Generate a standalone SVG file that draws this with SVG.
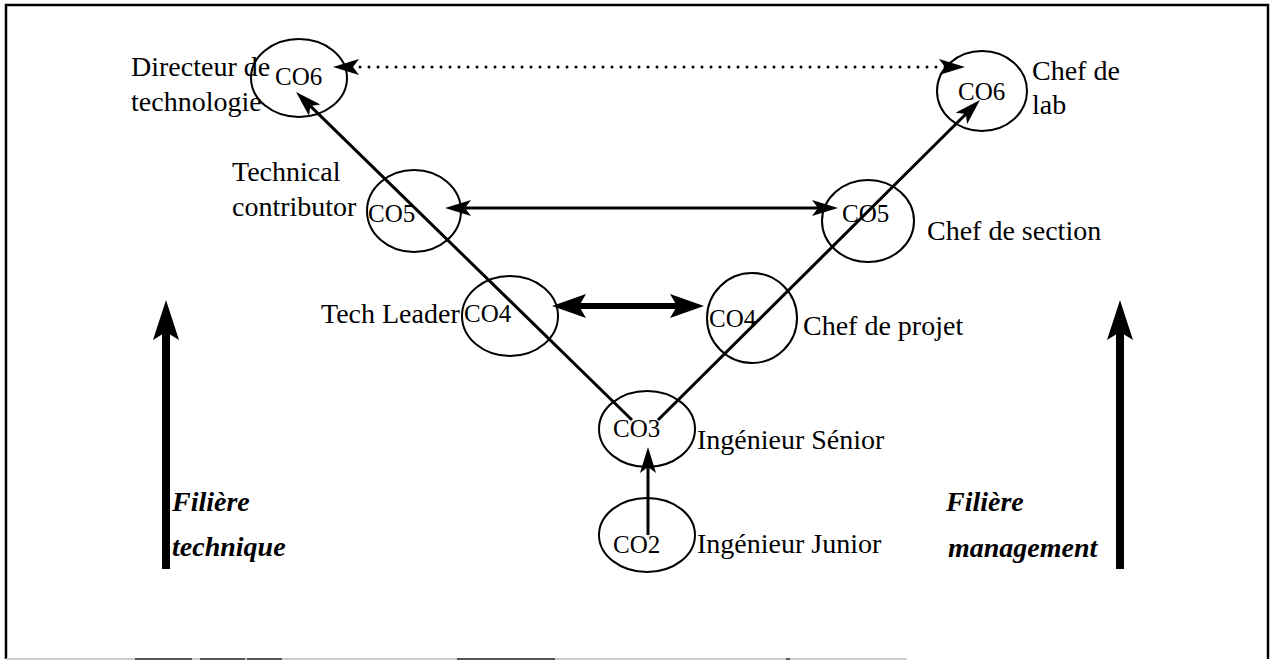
<svg xmlns="http://www.w3.org/2000/svg" width="1274" height="661" viewBox="0 0 1274 661">
<style>
.node ellipse{fill:none;stroke:#000;stroke-width:2}
.lbl{font-family:"Liberation Serif","Times New Roman",serif;font-size:28px;fill:#000}
.co{font-family:"Liberation Serif","Times New Roman",serif;font-size:25px;fill:#000}
.fil{font-family:"Liberation Serif","Times New Roman",serif;font-size:28px;font-weight:bold;font-style:italic;fill:#000}
.c{stroke:#000;fill:none}
</style>
<defs>
<marker id="aS" viewBox="0 0 26 16" refX="8" refY="8" markerWidth="26" markerHeight="16" markerUnits="userSpaceOnUse" orient="auto-start-reverse"><path d="M0,0 L26,8 L0,16 L6,8 z" fill="#000"/></marker>
<marker id="aM" viewBox="0 0 34 24" refX="9" refY="12" markerWidth="34" markerHeight="24" markerUnits="userSpaceOnUse" orient="auto-start-reverse"><path d="M0,0 L34,12 L0,24 L7,12 z" fill="#000"/></marker>
<marker id="aL" viewBox="0 0 40 26" refX="10" refY="13" markerWidth="40" markerHeight="26" markerUnits="userSpaceOnUse" orient="auto"><path d="M0,0 L40,13 L0,26 L8,13 z" fill="#000"/></marker>
</defs>
<rect width="1274" height="661" fill="#fff"/>
<g id="frame">
<path d="M6,659 L6,5 L1268,5 L1268,659" fill="none" stroke="#000" stroke-width="2.5"/>
<line x1="6" y1="659" x2="907" y2="659" stroke="#ccc" stroke-width="2"/>
<path d="M135,659 H192 M200,659 H245 M247,659 H282 M457,659 H555 M786,659 H790" stroke="#555" stroke-width="2"/>
</g>
<g id="nodes">
<g id="co6-tech" class="node"><ellipse cx="299" cy="78" rx="48" ry="39"/></g>
<g id="co6-mgmt" class="node"><ellipse cx="982" cy="91" rx="45" ry="40"/></g>
<g id="co5-tech" class="node"><ellipse cx="414" cy="211" rx="47" ry="41"/></g>
<g id="co5-mgmt" class="node"><ellipse cx="868" cy="221" rx="46" ry="41"/></g>
<g id="co4-tech" class="node"><ellipse cx="510" cy="316" rx="48" ry="40"/></g>
<g id="co4-mgmt" class="node"><ellipse cx="752" cy="318" rx="45" ry="45"/></g>
<g id="co3" class="node"><ellipse cx="647" cy="429" rx="48" ry="38"/></g>
<g id="co2" class="node"><ellipse cx="647" cy="535" rx="48" ry="37"/></g>
</g>
<g id="connectors">
<line class="c" x1="351" y1="67" x2="947" y2="67" stroke-width="3" stroke-linecap="round" stroke-dasharray="0 9" marker-start="url(#aS)" marker-end="url(#aS)"/>
<line class="c" x1="632" y1="420" x2="308.9" y2="104.6" stroke-width="3" marker-end="url(#aS)"/>
<line class="c" x1="658" y1="420" x2="967.2" y2="112.7" stroke-width="3" marker-end="url(#aS)"/>
<line class="c" x1="463" y1="208" x2="820" y2="208" stroke-width="3" marker-start="url(#aS)" marker-end="url(#aS)"/>
<line class="c" x1="577" y1="306" x2="679" y2="306" stroke-width="6" marker-start="url(#aM)" marker-end="url(#aM)"/>
<line class="c" x1="648" y1="535" x2="648" y2="465" stroke-width="3" marker-end="url(#aS)"/>
<line class="c" x1="166" y1="569" x2="166" y2="330" stroke-width="8" marker-end="url(#aL)"/>
<line class="c" x1="1120" y1="569" x2="1120" y2="330" stroke-width="8" marker-end="url(#aL)"/>
</g>
<g id="labels">
<text class="lbl" x="131" y="76">Directeur de</text>
<text class="lbl" x="131" y="111">technologie</text>
<text class="co" x="275" y="85">CO6</text>
<text class="lbl" x="1032" y="80">Chef de</text>
<text class="lbl" x="1032" y="114">lab</text>
<text class="co" x="958" y="100">CO6</text>
<text class="lbl" x="232" y="181">Technical</text>
<text class="lbl" x="232" y="216">contributor</text>
<text class="co" x="368" y="222">CO5</text>
<text class="co" x="842" y="222">CO5</text>
<text class="lbl" x="927" y="240">Chef de section</text>
<text class="lbl" x="321" y="323">Tech Leader</text>
<text class="co" x="464" y="322">CO4</text>
<text class="co" x="709" y="327">CO4</text>
<text class="lbl" x="803" y="335">Chef de projet</text>
<text class="co" x="613" y="437">CO3</text>
<text class="lbl" x="697" y="449">Ingénieur Sénior</text>
<text class="co" x="613" y="553">CO2</text>
<text class="lbl" x="697" y="553">Ingénieur Junior</text>
<text class="fil" x="172" y="511">Filière</text>
<text class="fil" x="172" y="556">technique</text>
<text class="fil" x="946" y="511">Filière</text>
<text class="fil" x="948" y="557">management</text>
</g>
</svg>
